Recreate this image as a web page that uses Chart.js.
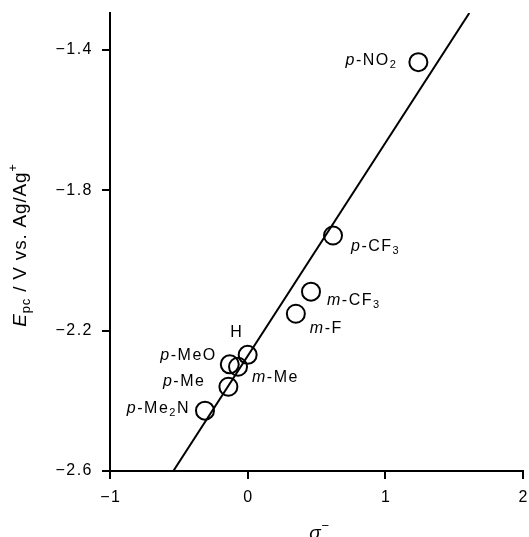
<!DOCTYPE html>
<html>
<head>
<meta charset="utf-8">
<script src="https://cdn.jsdelivr.net/npm/chart.js@4.4.1/dist/chart.umd.min.js"></script>
<style>
  body { margin: 0; background: #fff; }
  canvas { display: block; }
</style>
</head>
<body>
<canvas id="hammett" width="529" height="537"></canvas>
<script>
// Hammett plot values
const substituents = ["p-NO_2", "p-CF_3", "m-CF_3", "m-F", "H", "m-Me", "p-MeO", "p-Me", "p-Me_2N"];
const sigmaMinus = [1.24, 0.62, 0.46, 0.35, 0.0, -0.07, -0.13, -0.14, -0.31];
const epc = [-1.435, -1.929, -2.089, -2.152, -2.269, -2.303, -2.296, -2.36, -2.428];

// regression line end points
const fitX = [-0.54, 1.61];
const fitY = [-2.6, -1.295];

const xTicks = [-1, 0, 1, 2];
const yTicks = [-2.6, -2.2, -1.8, -1.4];

// label placement relative to each marker (px): dx, dy, align
const labelPlace = [
    [-21, -2, "right"],
    [18, 11, "left"],
    [16, 9, "left"],
    [14, 15, "left"],
    [-11, -22, "center"],
    [14, 11, "left"],
    [-13, -9, "right"],
    [-23, -5, "right"],
    [-15, -2, "right"]
];

const FONT = "'Liberation Sans', Arial, sans-serif";
const minus = v => String(v).replace("-", "\u2212");

// turn "p-Me_2N" into styled pieces
function parseLabel(str) {
    const segs = [];
    let rest = str;
    if (/^[pm]-/.test(str)) {
        segs.push({ t: str[0], i: true });
        rest = str.slice(1);
    }
    for (let k = 0; k < rest.length; k++) {
        if (rest[k] === "_") {
            segs.push({ t: rest[k + 1], sub: true });
            k++;
        } else {
            segs.push({ t: rest[k] });
        }
    }
    return segs;
}

function segFont(s, size) {
    const sz = (s.sub || s.sup) ? Math.round(size * 0.68) : size;
    return (s.i ? "italic " : "") + sz + "px " + FONT;
}

function richWidth(ctx, segs, size) {
    let w = 0;
    segs.forEach(s => { ctx.font = segFont(s, size); w += ctx.measureText(s.t).width; });
    return w;
}

function drawRich(ctx, segs, x, y, align, size, spacing) {
    ctx.letterSpacing = spacing + "px";
    const w = richWidth(ctx, segs, size);
    let cx = align === "right" ? x - w : align === "center" ? x - w / 2 : x;
    ctx.textBaseline = "middle";
    ctx.textAlign = "left";
    ctx.fillStyle = "#000";
    segs.forEach(s => {
        ctx.font = segFont(s, size);
        const dy = s.sub ? size * 0.28 : s.sup ? -size * 0.38 : 0;
        ctx.fillText(s.t, cx, y + dy);
        cx += ctx.measureText(s.t).width;
    });
}

const labelPlugin = {
    id: "hammettLabels",
    beforeDraw(chart) {
        chart.ctx.letterSpacing = "1.5px";
    },
    afterDatasetsDraw(chart) {
        const ctx = chart.ctx;
        const xs = chart.scales.x, ys = chart.scales.y;
        ctx.save();
        substituents.forEach((name, i) => {
            const px = xs.getPixelForValue(sigmaMinus[i]);
            const py = ys.getPixelForValue(epc[i]);
            const [dx, dy, align] = labelPlace[i];
            drawRich(ctx, parseLabel(name), px + dx, py + dy, align, 16, 1.5);
        });

        // x tick labels
        xTicks.forEach(v => {
            drawRich(ctx, [{ t: minus(v) }], xs.getPixelForValue(v) + 0.75, xs.top + 27, "center", 16, 1.5);
        });

        // y axis title, rotated
        const area = chart.chartArea;
        ctx.translate(21, (area.top + area.bottom) / 2 + 3);
        ctx.rotate(-Math.PI / 2);
        drawRich(ctx, [
            { t: "E", i: true }, { t: "pc", sub: true },
            { t: " / V vs. Ag/Ag" }, { t: "+", sup: true }
        ], 0, 0, "center", 19, 0.8);
        ctx.setTransform(1, 0, 0, 1, 0, 0);

        // x axis title
        drawRich(ctx, [{ t: "\u03c3", i: true }, { t: "\u2212", sup: true }],
            (area.left + area.right) / 2 + 3, 534, "center", 19, 0.8);
        ctx.restore();
    }
};

const points = sigmaMinus.map((x, i) => ({ x, y: epc[i] }));
const fitLine = fitX.map((x, i) => ({ x, y: fitY[i] }));

const tickFont = { size: 16, family: FONT };
const axisGrid = { display: true, drawOnChartArea: false, drawTicks: true, tickLength: 8, color: "#000", lineWidth: 2 };
const axisBorder = { display: true, color: "#000", width: 2 };

new Chart(document.getElementById("hammett"), {
    type: "scatter",
    data: {
        datasets: [
            {
                data: points,
                pointRadius: 9,
                pointBorderWidth: 2,
                pointBorderColor: "#000",
                pointBackgroundColor: "rgba(0,0,0,0)",
                showLine: false
            },
            {
                data: fitLine,
                showLine: true,
                borderColor: "#000",
                borderWidth: 2,
                pointRadius: 0
            }
        ]
    },
    options: {
        responsive: false,
        animation: false,
        layout: { autoPadding: false, padding: { top: 13, right: 6, left: 0, bottom: 0 } },
        plugins: {
            legend: { display: false },
            tooltip: { enabled: false }
        },
        scales: {
            x: {
                type: "linear",
                min: -1,
                max: 2,
                afterBuildTicks: s => { s.ticks = xTicks.map(v => ({ value: v })); },
                afterFit: s => { s.height = 66; },
                ticks: { display: false },
                grid: axisGrid,
                border: axisBorder
            },
            y: {
                type: "linear",
                min: -2.6,
                max: -1.295,
                afterBuildTicks: s => { s.ticks = yTicks.map(v => ({ value: v })); },
                afterFit: s => { s.width = 110; s.paddingTop = 0; s.paddingBottom = 0; },
                ticks: {
                    callback: v => minus(v.toFixed(1)),
                    color: "#000",
                    font: tickFont,
                    padding: 9
                },
                grid: axisGrid,
                border: axisBorder
            }
        }
    },
    plugins: [labelPlugin]
});
</script>
</body>
</html>
